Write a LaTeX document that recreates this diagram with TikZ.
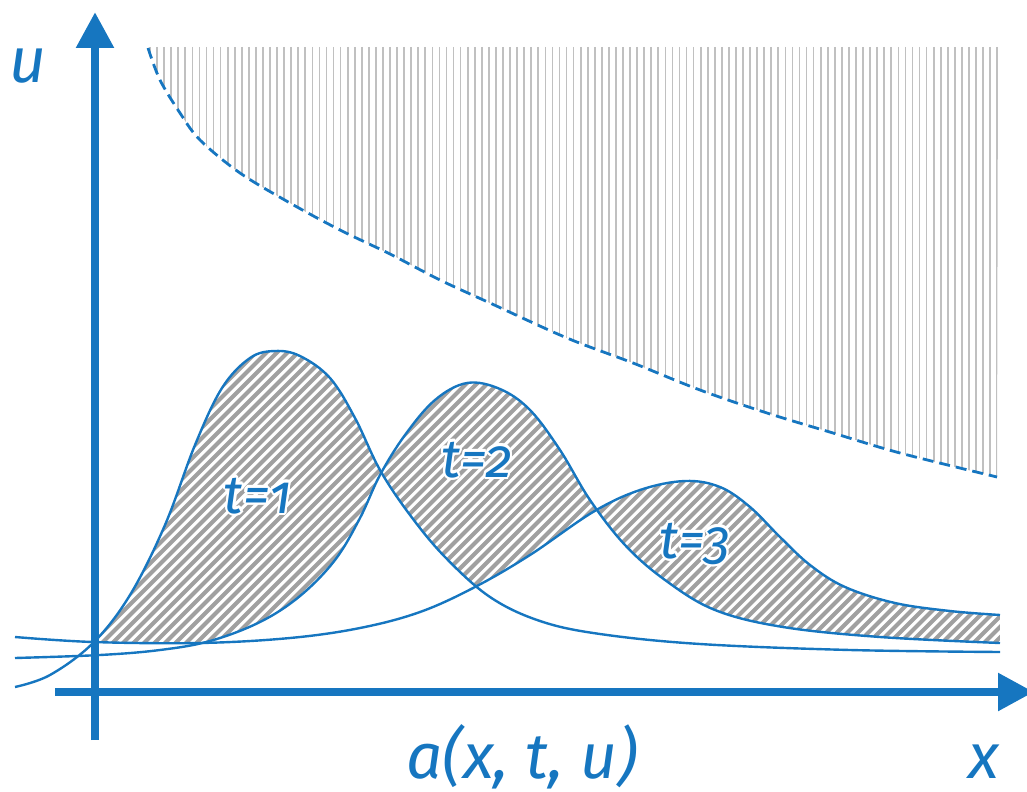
\documentclass[tikz,border=0pt]{standalone}
\usepackage{fontspec}
\setmainfont{Fira Sans}
\newfontfamily\lblfont{Fira Sans}[Numbers=OldStyle]
\usepackage[copies]{contour}
\contourlength{2.2pt}
\usetikzlibrary{arrows.meta}
\definecolor{axblue}{RGB}{22,118,192}
\definecolor{hatchgray}{RGB}{160,160,160}
\definecolor{vgray}{RGB}{192,192,192}
\def\curveA{plot[smooth,tension=0.6] coordinates {(15,687) (50,675) (93,643) (130,595) (165,525) (195,445) (222,388) (250,358) (275,351) (300,356) (330,378) (355,418) (380,470) (410,515) (445,557) (490,597) (540,621) (600,634) (700,644) (850,650) (1000,652)}}
\def\curveB{plot[smooth,tension=0.6] coordinates {(15,658) (100,655) (160,650) (210,641) (260,622) (300,596) (335,560) (360,518) (380,475) (405,435) (435,400) (467,383) (500,389) (530,410) (560,450) (590,500) (625,545) (665,580) (715,610) (783,627) (880,637) (1000,643)}}
\def\curveC{plot[smooth,tension=0.6] coordinates {(15,637) (93,642) (200,643) (290,638) (360,628) (420,612) (475,587) (530,555) (593,512) (640,490) (685,481) (720,487) (750,507) (780,537) (810,565) (845,587) (895,603) (950,611) (1000,615)}}
\def\dashcurve{plot[smooth,tension=0.55] coordinates {(148,48) (160,80) (180,113) (200,140) (240,173) (290,203) (340,230) (390,254) (440,280) (490,303) (567,338) (633,363) (700,390) (767,413) (833,433) (900,453) (997,477)}}
\tikzset{
  curve/.style={draw=axblue, line width=2.4bp},
  hatchline/.style={draw=hatchgray, line width=4bp},
  vline/.style={draw=vgray, line width=1.7bp},
  axis/.style={draw=axblue, line width=8.5bp, -{Triangle[length=36bp,width=36bp]}},
  axlabel/.style={text=axblue, inner sep=0pt, font=\fontsize{64}{64}\selectfont\itshape},
  tlabel/.style={text=axblue, inner sep=0pt, font=\fontsize{54}{54}\selectfont\lblfont\itshape},
}
\newcommand\hatchdiag{\foreach \c in {430,440.5,...,1670} {\draw[hatchline] (\c-720,720) -- (\c-300,300);}}
\begin{document}
\begin{tikzpicture}[x=1bp,y=-1bp]
\useasboundingbox (0,0) rectangle (1027,792);
% vertical hatched forbidden region
\begin{scope}
  \clip \dashcurve -- (998,47) -- (148,47) -- cycle;
  \foreach \i in {0,...,120} {\draw[vline] ({150+7.06*\i},47) -- ({150+7.06*\i},485);}
\end{scope}
\draw[draw=axblue, line width=2.8bp, dash pattern=on 11bp off 6bp] \dashcurve;
% region t=1
\begin{scope}[even odd rule]
  \clip (96,0) rectangle (1000,792);
  \clip \curveA -- (1000,760) -- (15,760) -- cycle;
  \clip (0,0) rectangle (1027,792) \curveB -- (1000,760) -- (15,760) -- cycle;
  \clip (0,0) rectangle (1027,792) \curveC -- (1000,760) -- (15,760) -- cycle;
  \hatchdiag
\end{scope}
% region t=2
\begin{scope}[even odd rule]
  \clip (96,0) rectangle (1000,792);
  \clip \curveB -- (1000,760) -- (15,760) -- cycle;
  \clip (0,0) rectangle (1027,792) \curveA -- (1000,760) -- (15,760) -- cycle;
  \clip (0,0) rectangle (1027,792) \curveC -- (1000,760) -- (15,760) -- cycle;
  \hatchdiag
\end{scope}
% region t=3
\begin{scope}[even odd rule]
  \clip (96,0) rectangle (1000,792);
  \clip \curveC -- (1000,760) -- (15,760) -- cycle;
  \clip (0,0) rectangle (1027,792) \curveA -- (1000,760) -- (15,760) -- cycle;
  \clip (0,0) rectangle (1027,792) \curveB -- (1000,760) -- (15,760) -- cycle;
  \hatchdiag
\end{scope}
% curves
\draw[curve] \curveA;
\draw[curve] \curveB;
\draw[curve] \curveC;
% axes
\coordinate (ybot) at (95,740);
\coordinate (ytop) at (95,12);
\coordinate (xleft) at (55,692);
\coordinate (xright) at (1034,692);
\draw[axis] (ybot) -- (ytop);
\draw[axis] (xleft) -- (xright);
% labels
\node[axlabel] (ulab) at (28,66) {u};
\node[axlabel] (xlab) at (984,762) {x};
\node[axlabel, anchor=base] (alab) at (522,778) {a(x, t, u)};
\node[tlabel, anchor=base] (t1) at (258,513) {\contour{white}{t=1}};
\node[tlabel, anchor=base] (t2) at (477,477) {\contour{white}{t=2}};
\node[tlabel, anchor=base] (t3) at (695,558) {\contour{white}{t=3}};
\end{tikzpicture}
\end{document}
